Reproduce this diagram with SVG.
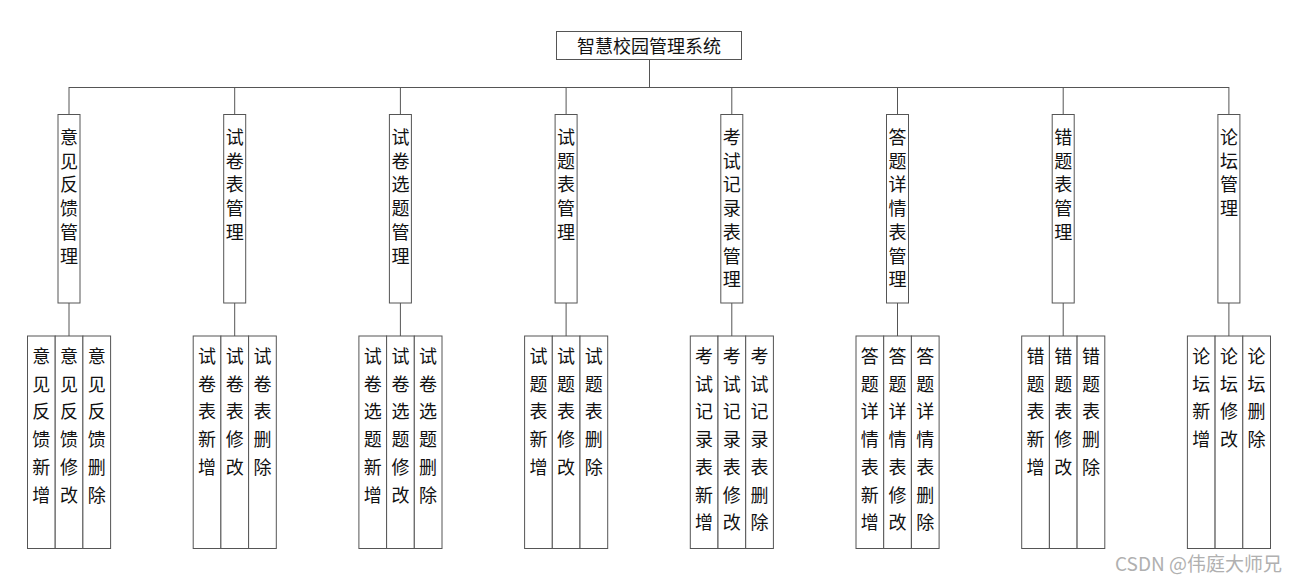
<svg xmlns="http://www.w3.org/2000/svg" width="1301" height="583" viewBox="0 0 1301 583">
<style>
.b{fill:#fff;stroke:#555;stroke-width:1}
.l{stroke:#555;stroke-width:1;fill:none}
.t{font-family:"Noto Sans CJK SC","Noto Sans",sans-serif;font-size:18px;fill:#111;text-anchor:middle}
.w{font-family:"Noto Sans CJK SC","Liberation Sans",sans-serif;font-size:19px;fill:#b0b0b0}
</style>
<rect width="1301" height="583" fill="#fff"/>
<g id="connectors">
<path class="l" d="M649.5 59V87M69 87.5H1229M69 87V114M234.7 87V114M400.4 87V114M566.1 87V114M731.8 87V114M897.5 87V114M1063.2 87V114M1228.9 87V114"/>
<path class="l" d="M69 303V336M234.7 303V336M400.4 303V336M566.1 303V336M731.8 303V336M897.5 303V336M1063.2 303V336M1228.9 303V336"/>
</g>
<g id="root">
<rect class="b" x="556.5" y="31.5" width="185" height="28"/>
<text class="t" x="649" y="53">智慧校园管理系统</text>
</g>
<g id="n0">
<rect class="b" x="58" y="114.5" width="22" height="188.5"/>
<text class="t" x="69" y="144"><tspan x="69">意</tspan><tspan x="69" dy="23.7">见</tspan><tspan x="69" dy="23.7">反</tspan><tspan x="69" dy="23.7">馈</tspan><tspan x="69" dy="23.7">管</tspan><tspan x="69" dy="23.7">理</tspan></text>
</g>
<g id="n1">
<rect class="b" x="223.7" y="114.5" width="22" height="188.5"/>
<text class="t" x="234.7" y="144"><tspan x="234.7">试</tspan><tspan x="234.7" dy="23.7">卷</tspan><tspan x="234.7" dy="23.7">表</tspan><tspan x="234.7" dy="23.7">管</tspan><tspan x="234.7" dy="23.7">理</tspan></text>
</g>
<g id="n2">
<rect class="b" x="389.4" y="114.5" width="22" height="188.5"/>
<text class="t" x="400.4" y="144"><tspan x="400.4">试</tspan><tspan x="400.4" dy="23.7">卷</tspan><tspan x="400.4" dy="23.7">选</tspan><tspan x="400.4" dy="23.7">题</tspan><tspan x="400.4" dy="23.7">管</tspan><tspan x="400.4" dy="23.7">理</tspan></text>
</g>
<g id="n3">
<rect class="b" x="555.1" y="114.5" width="22" height="188.5"/>
<text class="t" x="566.1" y="144"><tspan x="566.1">试</tspan><tspan x="566.1" dy="23.7">题</tspan><tspan x="566.1" dy="23.7">表</tspan><tspan x="566.1" dy="23.7">管</tspan><tspan x="566.1" dy="23.7">理</tspan></text>
</g>
<g id="n4">
<rect class="b" x="720.8" y="114.5" width="22" height="188.5"/>
<text class="t" x="731.8" y="144"><tspan x="731.8">考</tspan><tspan x="731.8" dy="23.7">试</tspan><tspan x="731.8" dy="23.7">记</tspan><tspan x="731.8" dy="23.7">录</tspan><tspan x="731.8" dy="23.7">表</tspan><tspan x="731.8" dy="23.7">管</tspan><tspan x="731.8" dy="23.7">理</tspan></text>
</g>
<g id="n5">
<rect class="b" x="886.5" y="114.5" width="22" height="188.5"/>
<text class="t" x="897.5" y="144"><tspan x="897.5">答</tspan><tspan x="897.5" dy="23.7">题</tspan><tspan x="897.5" dy="23.7">详</tspan><tspan x="897.5" dy="23.7">情</tspan><tspan x="897.5" dy="23.7">表</tspan><tspan x="897.5" dy="23.7">管</tspan><tspan x="897.5" dy="23.7">理</tspan></text>
</g>
<g id="n6">
<rect class="b" x="1052.2" y="114.5" width="22" height="188.5"/>
<text class="t" x="1063.2" y="144"><tspan x="1063.2">错</tspan><tspan x="1063.2" dy="23.7">题</tspan><tspan x="1063.2" dy="23.7">表</tspan><tspan x="1063.2" dy="23.7">管</tspan><tspan x="1063.2" dy="23.7">理</tspan></text>
</g>
<g id="n7">
<rect class="b" x="1217.9" y="114.5" width="22" height="188.5"/>
<text class="t" x="1228.9" y="144"><tspan x="1228.9">论</tspan><tspan x="1228.9" dy="23.7">坛</tspan><tspan x="1228.9" dy="23.7">管</tspan><tspan x="1228.9" dy="23.7">理</tspan></text>
</g>

<g id="l0">
<rect class="b" x="27.5" y="336" width="27.7" height="212.5"/><rect class="b" x="55.2" y="336" width="27.7" height="212.5"/><rect class="b" x="82.9" y="336" width="27.7" height="212.5"/>
<text class="t" y="363"><tspan x="41.3">意</tspan><tspan x="41.3" dy="27.7">见</tspan><tspan x="41.3" dy="27.7">反</tspan><tspan x="41.3" dy="27.7">馈</tspan><tspan x="41.3" dy="27.7">新</tspan><tspan x="41.3" dy="27.7">增</tspan></text>
<text class="t" y="363"><tspan x="69">意</tspan><tspan x="69" dy="27.7">见</tspan><tspan x="69" dy="27.7">反</tspan><tspan x="69" dy="27.7">馈</tspan><tspan x="69" dy="27.7">修</tspan><tspan x="69" dy="27.7">改</tspan></text>
<text class="t" y="363"><tspan x="96.7">意</tspan><tspan x="96.7" dy="27.7">见</tspan><tspan x="96.7" dy="27.7">反</tspan><tspan x="96.7" dy="27.7">馈</tspan><tspan x="96.7" dy="27.7">删</tspan><tspan x="96.7" dy="27.7">除</tspan></text>
</g>
<g id="l1">
<rect class="b" x="193.2" y="336" width="27.7" height="212.5"/><rect class="b" x="220.9" y="336" width="27.7" height="212.5"/><rect class="b" x="248.6" y="336" width="27.7" height="212.5"/>
<text class="t" y="363"><tspan x="207">试</tspan><tspan x="207" dy="27.7">卷</tspan><tspan x="207" dy="27.7">表</tspan><tspan x="207" dy="27.7">新</tspan><tspan x="207" dy="27.7">增</tspan></text>
<text class="t" y="363"><tspan x="234.7">试</tspan><tspan x="234.7" dy="27.7">卷</tspan><tspan x="234.7" dy="27.7">表</tspan><tspan x="234.7" dy="27.7">修</tspan><tspan x="234.7" dy="27.7">改</tspan></text>
<text class="t" y="363"><tspan x="262.4">试</tspan><tspan x="262.4" dy="27.7">卷</tspan><tspan x="262.4" dy="27.7">表</tspan><tspan x="262.4" dy="27.7">删</tspan><tspan x="262.4" dy="27.7">除</tspan></text>
</g>
<g id="l2">
<rect class="b" x="358.9" y="336" width="27.7" height="212.5"/><rect class="b" x="386.6" y="336" width="27.7" height="212.5"/><rect class="b" x="414.3" y="336" width="27.7" height="212.5"/>
<text class="t" y="363"><tspan x="372.7">试</tspan><tspan x="372.7" dy="27.7">卷</tspan><tspan x="372.7" dy="27.7">选</tspan><tspan x="372.7" dy="27.7">题</tspan><tspan x="372.7" dy="27.7">新</tspan><tspan x="372.7" dy="27.7">增</tspan></text>
<text class="t" y="363"><tspan x="400.4">试</tspan><tspan x="400.4" dy="27.7">卷</tspan><tspan x="400.4" dy="27.7">选</tspan><tspan x="400.4" dy="27.7">题</tspan><tspan x="400.4" dy="27.7">修</tspan><tspan x="400.4" dy="27.7">改</tspan></text>
<text class="t" y="363"><tspan x="428.1">试</tspan><tspan x="428.1" dy="27.7">卷</tspan><tspan x="428.1" dy="27.7">选</tspan><tspan x="428.1" dy="27.7">题</tspan><tspan x="428.1" dy="27.7">删</tspan><tspan x="428.1" dy="27.7">除</tspan></text>
</g>
<g id="l3">
<rect class="b" x="524.6" y="336" width="27.7" height="212.5"/><rect class="b" x="552.3" y="336" width="27.7" height="212.5"/><rect class="b" x="580" y="336" width="27.7" height="212.5"/>
<text class="t" y="363"><tspan x="538.4">试</tspan><tspan x="538.4" dy="27.7">题</tspan><tspan x="538.4" dy="27.7">表</tspan><tspan x="538.4" dy="27.7">新</tspan><tspan x="538.4" dy="27.7">增</tspan></text>
<text class="t" y="363"><tspan x="566.1">试</tspan><tspan x="566.1" dy="27.7">题</tspan><tspan x="566.1" dy="27.7">表</tspan><tspan x="566.1" dy="27.7">修</tspan><tspan x="566.1" dy="27.7">改</tspan></text>
<text class="t" y="363"><tspan x="593.8">试</tspan><tspan x="593.8" dy="27.7">题</tspan><tspan x="593.8" dy="27.7">表</tspan><tspan x="593.8" dy="27.7">删</tspan><tspan x="593.8" dy="27.7">除</tspan></text>
</g>
<g id="l4">
<rect class="b" x="690.3" y="336" width="27.7" height="212.5"/><rect class="b" x="718" y="336" width="27.7" height="212.5"/><rect class="b" x="745.7" y="336" width="27.7" height="212.5"/>
<text class="t" y="363"><tspan x="704.1">考</tspan><tspan x="704.1" dy="27.7">试</tspan><tspan x="704.1" dy="27.7">记</tspan><tspan x="704.1" dy="27.7">录</tspan><tspan x="704.1" dy="27.7">表</tspan><tspan x="704.1" dy="27.7">新</tspan><tspan x="704.1" dy="27.7">增</tspan></text>
<text class="t" y="363"><tspan x="731.8">考</tspan><tspan x="731.8" dy="27.7">试</tspan><tspan x="731.8" dy="27.7">记</tspan><tspan x="731.8" dy="27.7">录</tspan><tspan x="731.8" dy="27.7">表</tspan><tspan x="731.8" dy="27.7">修</tspan><tspan x="731.8" dy="27.7">改</tspan></text>
<text class="t" y="363"><tspan x="759.5">考</tspan><tspan x="759.5" dy="27.7">试</tspan><tspan x="759.5" dy="27.7">记</tspan><tspan x="759.5" dy="27.7">录</tspan><tspan x="759.5" dy="27.7">表</tspan><tspan x="759.5" dy="27.7">删</tspan><tspan x="759.5" dy="27.7">除</tspan></text>
</g>
<g id="l5">
<rect class="b" x="856" y="336" width="27.7" height="212.5"/><rect class="b" x="883.7" y="336" width="27.7" height="212.5"/><rect class="b" x="911.4" y="336" width="27.7" height="212.5"/>
<text class="t" y="363"><tspan x="869.8">答</tspan><tspan x="869.8" dy="27.7">题</tspan><tspan x="869.8" dy="27.7">详</tspan><tspan x="869.8" dy="27.7">情</tspan><tspan x="869.8" dy="27.7">表</tspan><tspan x="869.8" dy="27.7">新</tspan><tspan x="869.8" dy="27.7">增</tspan></text>
<text class="t" y="363"><tspan x="897.5">答</tspan><tspan x="897.5" dy="27.7">题</tspan><tspan x="897.5" dy="27.7">详</tspan><tspan x="897.5" dy="27.7">情</tspan><tspan x="897.5" dy="27.7">表</tspan><tspan x="897.5" dy="27.7">修</tspan><tspan x="897.5" dy="27.7">改</tspan></text>
<text class="t" y="363"><tspan x="925.2">答</tspan><tspan x="925.2" dy="27.7">题</tspan><tspan x="925.2" dy="27.7">详</tspan><tspan x="925.2" dy="27.7">情</tspan><tspan x="925.2" dy="27.7">表</tspan><tspan x="925.2" dy="27.7">删</tspan><tspan x="925.2" dy="27.7">除</tspan></text>
</g>
<g id="l6">
<rect class="b" x="1021.7" y="336" width="27.7" height="212.5"/><rect class="b" x="1049.4" y="336" width="27.7" height="212.5"/><rect class="b" x="1077.1" y="336" width="27.7" height="212.5"/>
<text class="t" y="363"><tspan x="1035.5">错</tspan><tspan x="1035.5" dy="27.7">题</tspan><tspan x="1035.5" dy="27.7">表</tspan><tspan x="1035.5" dy="27.7">新</tspan><tspan x="1035.5" dy="27.7">增</tspan></text>
<text class="t" y="363"><tspan x="1063.2">错</tspan><tspan x="1063.2" dy="27.7">题</tspan><tspan x="1063.2" dy="27.7">表</tspan><tspan x="1063.2" dy="27.7">修</tspan><tspan x="1063.2" dy="27.7">改</tspan></text>
<text class="t" y="363"><tspan x="1090.9">错</tspan><tspan x="1090.9" dy="27.7">题</tspan><tspan x="1090.9" dy="27.7">表</tspan><tspan x="1090.9" dy="27.7">删</tspan><tspan x="1090.9" dy="27.7">除</tspan></text>
</g>
<g id="l7">
<rect class="b" x="1187.4" y="336" width="27.7" height="212.5"/><rect class="b" x="1215.1" y="336" width="27.7" height="212.5"/><rect class="b" x="1242.8" y="336" width="27.7" height="212.5"/>
<text class="t" y="363"><tspan x="1201.2">论</tspan><tspan x="1201.2" dy="27.7">坛</tspan><tspan x="1201.2" dy="27.7">新</tspan><tspan x="1201.2" dy="27.7">增</tspan></text>
<text class="t" y="363"><tspan x="1228.9">论</tspan><tspan x="1228.9" dy="27.7">坛</tspan><tspan x="1228.9" dy="27.7">修</tspan><tspan x="1228.9" dy="27.7">改</tspan></text>
<text class="t" y="363"><tspan x="1256.6">论</tspan><tspan x="1256.6" dy="27.7">坛</tspan><tspan x="1256.6" dy="27.7">删</tspan><tspan x="1256.6" dy="27.7">除</tspan></text>
</g>
<text class="w" x="1115" y="571">CSDN @伟庭大师兄</text>
</svg>
